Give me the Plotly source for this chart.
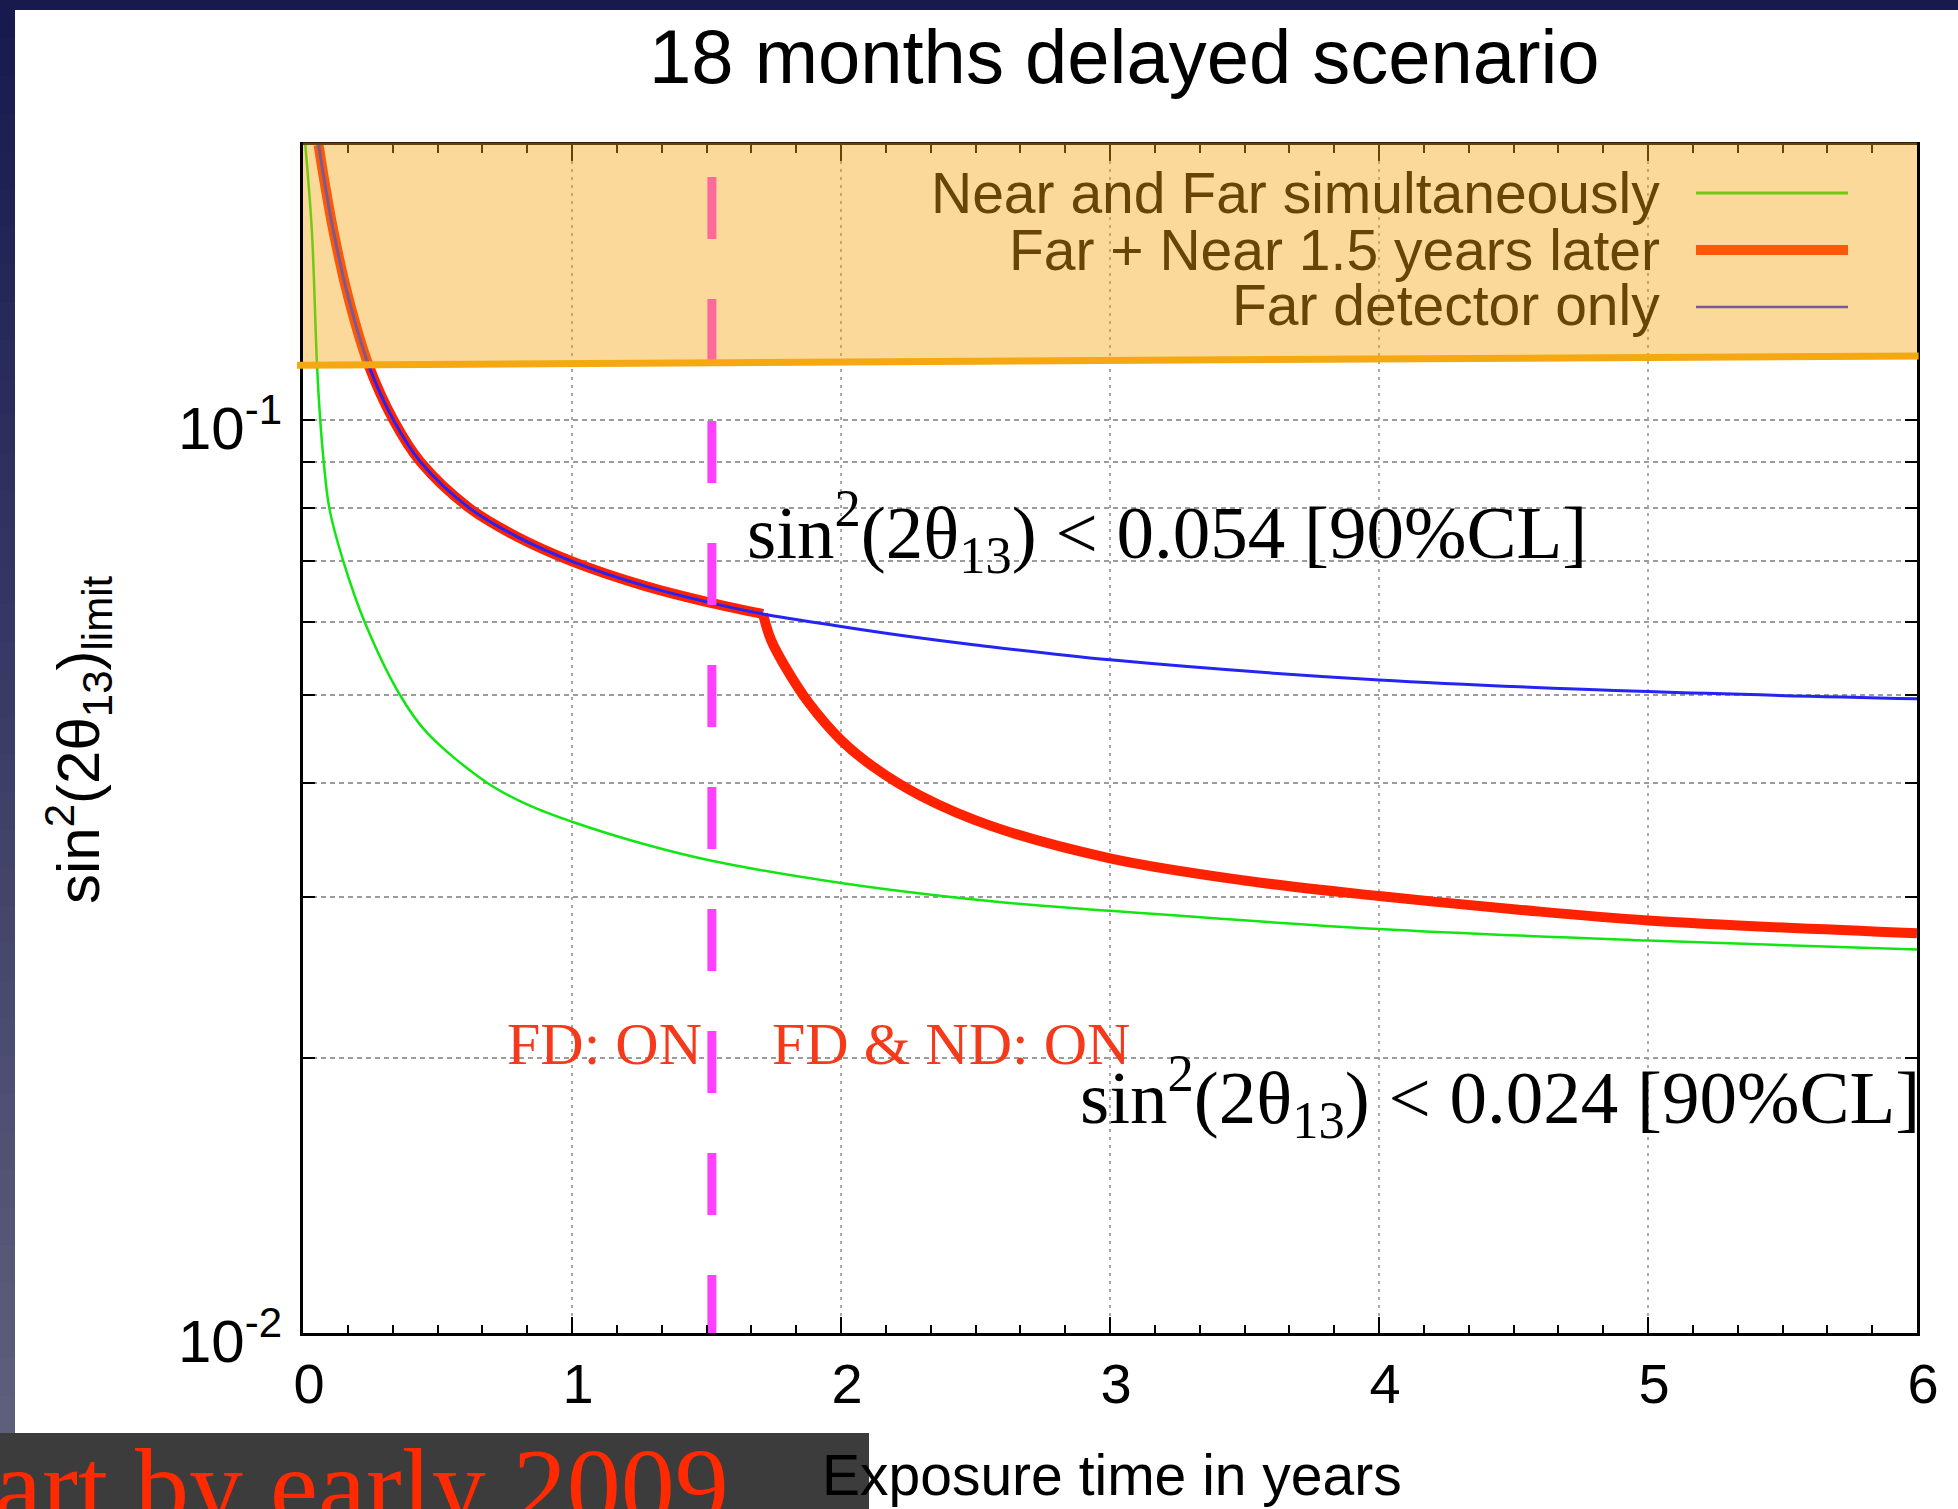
import math
import plotly.graph_objects as go

# ---------------------------------------------------------------
# sin^2(2 theta13) 90% CL sensitivity versus exposure time (years)
# ---------------------------------------------------------------
near_far_t = [0.0085, 0.033, 0.052, 0.064, 0.077, 0.098, 0.15, 0.23, 0.36, 0.459,
              0.687, 0.843, 1.0, 1.27, 1.52, 2.0, 2.56, 3.0, 4.0, 5.0, 6.0]
near_far_lim = [0.200, 0.161, 0.115, 0.100, 0.090, 0.080, 0.0700, 0.0600, 0.0500, 0.0455,
                0.0400, 0.0378, 0.0363, 0.0343, 0.0329, 0.0311, 0.0297, 0.0290, 0.0277,
                0.0269, 0.0263]

far_only_t = [0.058, 0.079, 0.113, 0.169, 0.243, 0.336, 0.436, 0.62, 0.795, 1.0,
              1.27, 1.52, 1.71, 2.0, 2.22, 2.5, 3.0, 4.0, 5.0, 6.0]
far_only_lim = [0.200, 0.183, 0.161, 0.136, 0.115, 0.100, 0.090, 0.080, 0.0745, 0.0700,
                0.0658, 0.0630, 0.0613, 0.0594, 0.0581, 0.0567, 0.0546, 0.0519, 0.0504, 0.0495]

delayed_t = [0.058, 0.079, 0.113, 0.169, 0.243, 0.336, 0.436, 0.62, 0.795, 1.0,
             1.27, 1.52, 1.71, 1.74, 1.80, 1.88, 2.0, 2.12, 2.30, 2.56, 3.0,
             3.5, 4.0, 4.51, 5.0, 6.0]
delayed_lim = [0.200, 0.183, 0.161, 0.136, 0.115, 0.100, 0.090, 0.080, 0.0745, 0.0700,
               0.0658, 0.0630, 0.0613, 0.0574, 0.0532, 0.0490, 0.0446, 0.0417, 0.0387,
               0.0359, 0.0331, 0.0313, 0.0301, 0.0291, 0.0283, 0.0274]
near_start_t = 1.71          # near detector joins: kink of the delayed curve

switch_t = 1.52              # "FD: ON" / "FD & ND: ON" marker
switch_lim = [0.1845, 0.01]

band_lim = [0.1148, 0.1175]  # shaded excluded band (left edge, right edge)

x_ticks = [0, 1, 2, 3, 4, 5, 6]
y_ticks = [0.01, 0.02, 0.03, 0.04, 0.05, 0.06, 0.07, 0.08, 0.09, 0.1, 0.2]
y_ticktext = ["10<sup>-2</sup>", "", "", "", "", "", "", "", "", "10<sup>-1</sup>", ""]
Y_MIN, Y_MAX = 0.01, 0.2

legend_names = ["Near and Far simultaneously", "Far + Near 1.5 years later", "Far detector only"]

# ---------------------------------------------------------------
# page geometry helpers (pixels -> paper fractions)
# ---------------------------------------------------------------
FIG_W, FIG_H = 1958, 1509
L, R, T, B = 303, 1917, 145, 1333


def px_x(p):
    return (p - L) / (R - L)


def px_y(p):
    return (B - p) / (B - T)


def lim_to_paper(v):
    return (math.log10(v) - math.log10(Y_MIN)) / (math.log10(Y_MAX) - math.log10(Y_MIN))


GREEN = "#12E612"
RED = "#FF2200"
BLUE = "#2424F4"
MAGENTA = "#FF40FF"
ORANGE = "#F5A812"
SANS = "Liberation Sans, Arial, Helvetica, sans-serif"
SERIF = "Liberation Serif, Times New Roman, serif"
SMOOTH = 1.0

fig = go.Figure()

fig.add_trace(go.Scatter(x=near_far_t, y=near_far_lim, mode="lines",
                         line=dict(color=GREEN, width=2.5, shape="spline", smoothing=SMOOTH),
                         name=legend_names[0], showlegend=False))

pre = [(t, v) for t, v in zip(delayed_t, delayed_lim) if t <= near_start_t]
post = [(t, v) for t, v in zip(delayed_t, delayed_lim) if t >= near_start_t]
for seg in (pre, post):
    fig.add_trace(go.Scatter(x=[p[0] for p in seg], y=[p[1] for p in seg], mode="lines",
                             line=dict(color=RED, width=10, shape="spline", smoothing=SMOOTH),
                             name=legend_names[1], showlegend=False))

fig.add_trace(go.Scatter(x=far_only_t, y=far_only_lim, mode="lines",
                         line=dict(color=BLUE, width=3, shape="spline", smoothing=SMOOTH),
                         name=legend_names[2], showlegend=False))

fig.add_trace(go.Scatter(x=[switch_t, switch_t], y=switch_lim, mode="lines",
                         line=dict(color=MAGENTA, width=9, dash="62px,60px"),
                         showlegend=False, hoverinfo="skip"))

shapes = []

# slide frame: navy gradient strip on the left, navy strip on top
n_strips = 40
c0, c1 = (24, 26, 78), (98, 98, 128)
for i in range(n_strips):
    f = i / (n_strips - 1)
    col = tuple(round(a + (b - a) * f) for a, b in zip(c0, c1))
    y_top = FIG_H * i / n_strips
    y_bot = FIG_H * (i + 1) / n_strips + 1
    shapes.append(dict(type="rect", xref="paper", yref="paper", layer="below",
                       x0=px_x(0), x1=px_x(15), y0=px_y(y_bot), y1=px_y(y_top),
                       line=dict(width=0), fillcolor="rgb(%d,%d,%d)" % col))
shapes.append(dict(type="rect", xref="paper", yref="paper", layer="below",
                   x0=px_x(0), x1=px_x(FIG_W), y0=px_y(10), y1=px_y(0),
                   line=dict(width=0), fillcolor="rgb(24,26,78)"))
# dark caption box at the bottom left
shapes.append(dict(type="rect", xref="paper", yref="paper", layer="below",
                   x0=px_x(0), x1=px_x(869), y0=px_y(FIG_H), y1=px_y(1433),
                   line=dict(width=0), fillcolor="#3c3c3c"))

# key samples (drawn under the tinted band)
key_y = [193, 250, 307]
key_style = [(GREEN, 3), (RED, 10), (BLUE, 2.5)]
for yy, (col, w) in zip(key_y, key_style):
    shapes.append(dict(type="line", xref="paper", yref="paper", layer="above",
                       x0=px_x(1696), x1=px_x(1848), y0=px_y(yy), y1=px_y(yy),
                       line=dict(color=col, width=w)))

# translucent orange band above the threshold line
yl, yr = lim_to_paper(band_lim[0]), lim_to_paper(band_lim[1])
shapes.append(dict(type="path", xref="paper", yref="paper", layer="above",
                   path="M 0,%f L 1,%f L 1,1.002 L 0,1.002 Z" % (yl, yr),
                   line=dict(width=0), fillcolor="rgba(245,165,17,0.42)"))
shapes.append(dict(type="line", xref="paper", yref="paper", layer="above",
                   x0=px_x(297), x1=1.001, y0=yl, y1=yr,
                   line=dict(color=ORANGE, width=7)))

annotations = []


def note(text, x, y, size, color="black", family=SANS, xanchor="left", yanchor="middle", angle=0):
    annotations.append(dict(text=text, x=x, y=y, xref="paper", yref="paper",
                            xanchor=xanchor, yanchor=yanchor, showarrow=False,
                            textangle=angle, font=dict(size=size, color=color, family=family)))


note("18 months delayed scenario", px_x(1124), px_y(57), 76, xanchor="center")
note("sin<sup>2</sup>(2θ<sub>13</sub>)<sub>limit</sub>", px_x(78), px_y(740), 60,
     xanchor="center", angle=-90)
note("Exposure time in years", px_x(1112), px_y(1475), 57, xanchor="center")

# key text (tinted like the band it sits in)
for name, yy in zip(legend_names, [193, 250, 305]):
    note(name, px_x(1662), px_y(yy), 57, color="#674507", xanchor="right")

note("sin<sup>2</sup>(2θ<sub>13</sub>) &lt; 0.054 [90%CL]", px_x(745), px_y(531), 75, family=SERIF)
note("sin<sup>2</sup>(2θ<sub>13</sub>) &lt; 0.024 [90%CL]", px_x(1078), px_y(1096), 75, family=SERIF)
note("FD: ON", px_x(505), px_y(1044), 60, color="#F43A1A", family=SERIF)
note("FD &amp; ND: ON", px_x(770), px_y(1044), 60, color="#F43A1A", family=SERIF)
note("Start by early 2009", px_x(731), px_y(1486), 108, color="#FF2A00", family=SERIF,
     xanchor="right")

fig.update_layout(
    width=FIG_W, height=FIG_H,
    margin=dict(l=L, r=FIG_W - R, t=T, b=FIG_H - B, pad=0),
    paper_bgcolor="white", plot_bgcolor="white",
    showlegend=False,
    shapes=shapes, annotations=annotations,
    xaxis=dict(range=[0, 6], tickmode="array", tickvals=x_ticks, ticktext=[str(v) for v in x_ticks],
               ticks="inside", ticklen=16, tickwidth=2, tickcolor="black",
               showline=True, linewidth=3, linecolor="black", mirror="ticks",
               showgrid=True, gridcolor="#a8a8a8", gridwidth=1.5, griddash="3px,5px",
               zeroline=False, ticklabelshift=6,
               tickfont=dict(size=56, family=SANS, color="black"),
               minor=dict(tickmode="linear", tick0=0, dtick=1 / 6, ticks="inside", ticklen=8,
                          tickwidth=2, tickcolor="black", showgrid=False)),
    yaxis=dict(type="log", range=[math.log10(Y_MIN), math.log10(Y_MAX)],
               tickmode="array", tickvals=y_ticks, ticktext=y_ticktext,
               ticks="inside", ticklen=12, tickwidth=2, tickcolor="black",
               showline=True, linewidth=3, linecolor="black", mirror="ticks",
               showgrid=True, gridcolor="#9c9c9c", gridwidth=2, griddash="5px,4px",
               zeroline=False, ticklabelshift=8, ticklabelstandoff=6,
               tickfont=dict(size=60, family=SANS, color="black")),
)

fig.write_html("out.html")
